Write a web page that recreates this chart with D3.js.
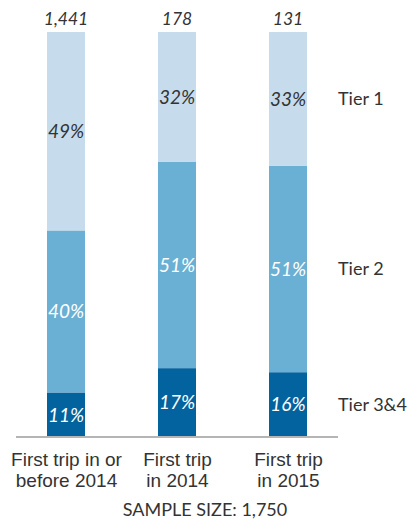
<!DOCTYPE html>
<html>
<head>
<meta charset="utf-8">
<script src="https://cdn.jsdelivr.net/npm/d3@7"></script>
<style>
  html, body { margin: 0; padding: 0; background: #fff; }
  svg { display: block; font-family: Lato, "Open Sans", sans-serif; }
</style>
</head>
<body>
<svg id="chart" width="412" height="522"></svg>
<script>
// Share of respondents by tier, per first-trip cohort
const categories = ["First trip in or|before 2014", "First trip|in 2014", "First trip|in 2015"];
const counts = ["1,441", "178", "131"];
const tiers = ["Tier 3&4", "Tier 2", "Tier 1"];
const tier34 = [11, 17, 16];
const tier2 = [40, 51, 51];
const tier1 = [49, 32, 33];
const sampleNote = "SAMPLE SIZE: 1,750";

const colors = { "Tier 3&4": "#03639e", "Tier 2": "#69b0d4", "Tier 1": "#c6dcec" };
const labelColors = { "Tier 3&4": "#ffffff", "Tier 2": "#ffffff", "Tier 1": "#333333" };

const rows = categories.map((c, i) => ({
  cat: c, "Tier 3&4": tier34[i], "Tier 2": tier2[i], "Tier 1": tier1[i]
}));
const stacked = d3.stack().keys(tiers)(rows);

const svg = d3.select("#chart");
const x = d3.scalePoint().domain(categories).range([66, 288]);
const y = d3.scaleLinear().domain([0, 100]).range([437, 32]);
const barW = 38;

// stacked bars
const layer = svg.selectAll("g.layer").data(stacked).join("g")
  .attr("class", "layer").attr("fill", d => colors[d.key]);
layer.selectAll("rect").data(d => d).join("rect")
  .attr("x", d => x(d.data.cat) - barW / 2)
  .attr("width", barW)
  .attr("y", d => y(d[1]))
  .attr("height", d => y(d[0]) - y(d[1]));

// value labels in each segment
stacked.forEach(s => {
  svg.append("g").selectAll("text").data(s).join("text")
    .attr("x", d => x(d.data.cat))
    .attr("y", d => (y(d[0]) + y(d[1])) / 2)
    .attr("dy", "0.36em")
    .attr("text-anchor", "middle")
    .attr("font-style", "italic")
    .attr("font-size", 19)
    .attr("fill", labelColors[s.key])
    .text(d => (d[1] - d[0]) + "%");
});

// counts above bars
svg.append("g").selectAll("text").data(categories).join("text")
  .attr("x", d => x(d))
  .attr("y", 25)
  .attr("text-anchor", "middle")
  .attr("font-style", "italic")
  .attr("font-size", 17.5)
  .attr("fill", "#333")
  .text((d, i) => counts[i]);

// series labels beside the last bar
const last = categories.length - 1;
svg.append("g").selectAll("text").data(stacked).join("text")
  .attr("x", 338)
  .attr("y", s => (y(s[last][0]) + y(s[last][1])) / 2)
  .attr("dy", "0.36em")
  .attr("font-size", 18)
  .attr("fill", "#333")
  .text(s => s.key);

// baseline with category labels
const axis = svg.append("g").attr("transform", "translate(0,437)")
  .call(d3.axisBottom(x).tickSize(0).tickFormat(""));
axis.select(".domain").remove();
axis.append("line").attr("x1", 16).attr("x2", 338)
  .attr("stroke", "#b5b5b5").attr("stroke-width", 2);
axis.selectAll(".tick").each(function(d) {
  const t = d3.select(this).append("text")
    .attr("text-anchor", "middle")
    .attr("font-size", 19)
    .attr("fill", "#333");
  d.split("|").forEach((line, i) => {
    t.append("tspan").attr("x", 0).attr("y", 29 + i * 21).text(line);
  });
});

svg.append("text")
  .attr("x", 205).attr("y", 516)
  .attr("text-anchor", "middle")
  .attr("font-size", 18)
  .attr("fill", "#333")
  .text(sampleNote);
</script>
</body>
</html>
